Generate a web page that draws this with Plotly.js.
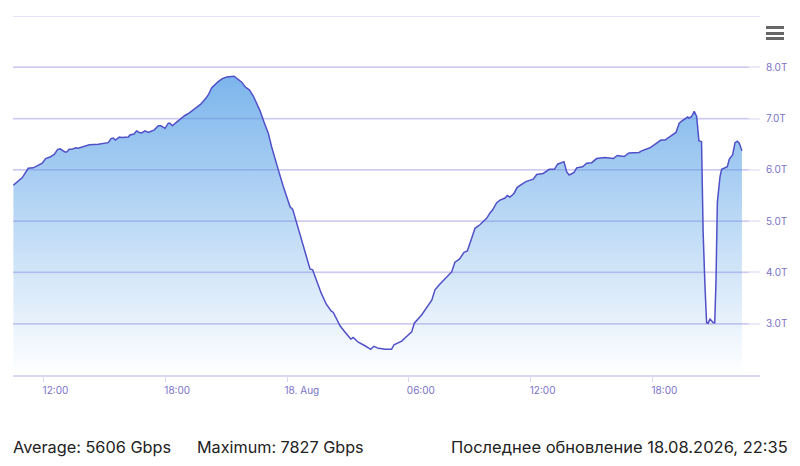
<!DOCTYPE html>
<html>
<head>
<meta charset="utf-8">
<script src="https://cdn.plot.ly/plotly-3.0.1.min.js"></script>
<style>
html, body { margin: 0; padding: 0; background: #fff; }
#trafficChart { width: 800px; height: 466px; }
.chart-menu { position: absolute; left: 766px; top: 26px; width: 18px; }
.chart-menu span { display: block; height: 3px; margin-bottom: 2.5px; background: #666; }
</style>
</head>
<body>
<div id="trafficChart"></div>
<div class="chart-menu"><span></span><span></span><span></span></div>
<script>
// hours counted from 17 Aug 00:00, values in Tbps
const hours = [
    10.52, 10.68, 10.96, 11.09, 11.25, 11.50, 11.75, 11.94, 12.11, 12.32, 12.53, 12.70, 12.82, 13.06, 13.15, 13.27,
    13.39, 13.59, 13.72, 14.00, 14.26, 14.70, 15.19, 15.33, 15.44, 15.54, 15.74, 15.85, 16.18, 16.26, 16.46, 16.59,
    16.72, 16.84, 17.00, 17.17, 17.46, 17.66, 17.79, 17.99, 18.15, 18.23, 18.35, 18.56, 18.73, 18.97, 19.19, 19.38,
    19.55, 19.75, 20.01, 20.12, 20.29, 20.45, 20.61, 20.81, 21.03, 21.39, 21.52, 21.77, 21.93, 22.14, 22.34, 22.58,
    22.67, 22.86, 23.08, 23.24, 23.41, 23.57, 23.82, 24.15, 24.28, 24.48, 24.72, 24.97, 25.13, 25.26, 25.46, 25.67,
    25.92, 26.17, 26.28, 26.61, 26.85, 27.14, 27.26, 27.51, 27.84, 28.12, 28.28, 28.50, 28.83, 29.15, 29.27, 29.65,
    29.89, 30.14, 30.27, 30.63, 31.13, 31.29, 31.50, 31.94, 32.11, 32.27, 32.49, 32.72, 32.88, 33.10, 33.26, 33.50,
    33.84, 34.00, 34.13, 34.33, 34.49, 34.74, 34.85, 34.98, 35.18, 35.34, 35.56, 35.76, 36.13, 36.30, 36.62, 36.92,
    37.17, 37.33, 37.64, 37.78, 37.90, 38.14, 38.27, 38.56, 38.76, 39.01, 39.25, 39.66, 40.07, 40.27, 40.61, 40.84,
    41.34, 41.47, 41.88, 42.21, 42.42, 42.62, 42.86, 43.16, 43.32, 43.44, 43.74, 43.80, 43.93, 44.06, 44.18, 44.29,
    44.42, 44.50, 44.59, 44.67, 44.74, 44.84, 45.00, 45.07, 45.13, 45.20, 45.33, 45.41, 45.69, 45.79, 45.95, 46.07,
    46.18, 46.28, 46.41
];
const traffic = [
    5.70, 5.75, 5.85, 5.93, 6.03, 6.04, 6.10, 6.13, 6.22, 6.25, 6.30, 6.40, 6.41, 6.35, 6.35, 6.40,
    6.40, 6.43, 6.42, 6.45, 6.49, 6.50, 6.53, 6.61, 6.62, 6.58, 6.64, 6.63, 6.64, 6.68, 6.70, 6.76,
    6.73, 6.72, 6.76, 6.73, 6.78, 6.86, 6.86, 6.81, 6.91, 6.91, 6.86, 6.93, 6.99, 7.06, 7.11, 7.17,
    7.23, 7.28, 7.40, 7.46, 7.60, 7.67, 7.72, 7.78, 7.81, 7.827, 7.79, 7.71, 7.62, 7.56, 7.44, 7.25,
    7.15, 6.94, 6.71, 6.45, 6.19, 6.00, 5.67, 5.28, 5.23, 4.96, 4.60, 4.28, 4.07, 4.05, 3.82, 3.61,
    3.39, 3.25, 3.22, 2.96, 2.84, 2.70, 2.73, 2.64, 2.57, 2.50, 2.56, 2.52, 2.50, 2.50, 2.59, 2.66,
    2.75, 2.84, 3.01, 3.17, 3.46, 3.66, 3.76, 3.95, 4.01, 4.20, 4.26, 4.39, 4.42, 4.67, 4.86, 4.93,
    5.06, 5.16, 5.22, 5.36, 5.41, 5.45, 5.50, 5.47, 5.54, 5.66, 5.72, 5.77, 5.82, 5.91, 5.93, 6.01,
    6.01, 6.11, 6.16, 5.96, 5.90, 5.95, 6.04, 6.06, 6.13, 6.14, 6.22, 6.24, 6.22, 6.28, 6.26, 6.33,
    6.34, 6.37, 6.43, 6.53, 6.58, 6.58, 6.64, 6.73, 6.91, 6.95, 7.03, 7.01, 7.04, 7.14, 7.04, 6.57,
    6.55, 4.77, 3.72, 3.02, 3.01, 3.09, 3.02, 3.02, 3.79, 5.37, 5.87, 6.01, 6.06, 6.21, 6.29, 6.53,
    6.56, 6.52, 6.37
];
const xTickHours = [12, 18, 24, 30, 36, 42];
const xTickLabels = ['12:00', '18:00', '\u00a0\u00a018. Aug', '06:00', '12:00', '18:00'];
const yTicks = [3, 4, 5, 6, 7, 8, 9];
const yTickLabels = ['3.0T', '4.0T', '5.0T', '6.0T', '7.0T', '8.0T', ''];
const xRangeHours = [10.5, 47.3];
const yRange = [2, 9];

const FONT = 'Inter, "Noto Sans", sans-serif';
const DAY_START = Date.UTC(2026, 7, 17);
const toTime = (h) => DAY_START + h * 3600000;

const trace = {
    type: 'scatter',
    mode: 'lines',
    x: hours.map(toTime),
    y: traffic,
    line: { color: '#5050c8', width: 1.5 },
    fill: 'tozeroy',
    fillgradient: {
        type: 'vertical',
        start: 7.83,
        stop: 2,
        colorscale: [[0, 'rgb(124, 181, 236)'], [1, 'rgba(124, 181, 236, 0)']]
    },
    hoverinfo: 'skip'
};

// the darker part of each grid line, it shows through the area fill
const gridShapes = yTicks.map((v) => ({
    type: 'line',
    layer: 'above',
    xref: 'paper',
    yref: 'y',
    x0: 0,
    x1: v === 9 ? 1 : 0.985,
    y0: v,
    y1: v,
    line: { color: 'rgba(90, 80, 205, 0.2)', width: 1.5 }
}));

const footerNote = (text, x, xanchor, size) => ({
    text,
    x,
    xanchor,
    xref: 'paper',
    yref: 'paper',
    y: -0.2,
    yanchor: 'middle',
    showarrow: false,
    font: { family: FONT, size, color: '#222' }
});

const layout = {
    width: 800,
    height: 466,
    margin: { l: 13, r: 40, t: 16, b: 91 },
    paper_bgcolor: '#fff',
    plot_bgcolor: '#fff',
    showlegend: false,
    font: { family: FONT },
    shapes: gridShapes,
    xaxis: {
        type: 'date',
        range: xRangeHours.map(toTime),
        tickvals: xTickHours.map(toTime),
        ticktext: xTickLabels,
        ticks: 'outside',
        ticklen: 5,
        tickwidth: 1,
        tickcolor: '#d8d8f0',
        ticklabelshift: 12,
        ticklabelstandoff: 0,
        tickfont: { family: FONT, size: 10, color: '#7a72c8' },
        showgrid: false,
        showline: true,
        linecolor: '#d8d8f0',
        linewidth: 1.5,
        zeroline: false
    },
    yaxis: {
        side: 'right',
        range: yRange,
        tickvals: yTicks,
        ticktext: yTickLabels,
        ticks: '',
        ticklabelstandoff: 5,
        tickfont: { family: FONT, size: 10, color: '#7a72c8' },
        showgrid: true,
        gridcolor: '#eaeaf8',
        gridwidth: 1.5,
        showline: false,
        zeroline: false
    },
    annotations: [
        footerNote('Average: 5606 Gbps', -0.003, 'left', 16.3),
        footerNote('Maximum: 7827 Gbps', 0.2436, 'left', 16.2),
        footerNote('Последнее обновление 18.08.2026, 22:35', 1.04, 'right', 16.5)
    ]
};

Plotly.newPlot('trafficChart', [trace], layout, { displayModeBar: false, responsive: false });
</script>
</body>
</html>
